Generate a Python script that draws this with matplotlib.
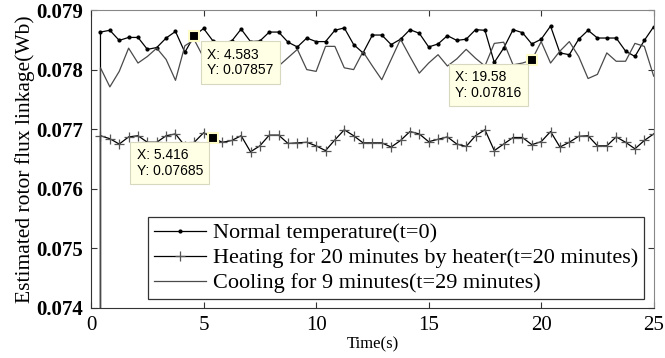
import numpy as np
import matplotlib.pyplot as plt

# sample times: 60 samples over 25 s, plus the startup sample where the estimate jumps from zero
t = np.r_[25 / 60, np.arange(1, 61) * 25 / 60]

normal = [0.0,
          0.07863, 0.07866, 0.07849, 0.07854, 0.07854, 0.07834, 0.07837, 0.07853, 0.07864, 0.07829,
          0.07857, 0.07869, 0.07848, 0.07845, 0.07848, 0.07868, 0.07847, 0.07848, 0.07863, 0.07863,
          0.07846, 0.07838, 0.07853, 0.07847, 0.07847, 0.07866, 0.07870, 0.07842, 0.07828, 0.07858,
          0.07858, 0.07842, 0.07851, 0.07867, 0.07861, 0.07838, 0.07843, 0.07857, 0.07849, 0.07851,
          0.07867, 0.07866, 0.07812, 0.07836, 0.07867, 0.07862, 0.07843, 0.07851, 0.07873, 0.07828,
          0.07825, 0.07851, 0.07866, 0.07853, 0.07853, 0.07853, 0.07831, 0.07822, 0.07849, 0.07872]

heating = [0.0,
           0.07689, 0.07684, 0.07675, 0.07687, 0.07689, 0.07678, 0.07678, 0.07689, 0.07692, 0.07672,
           0.07678, 0.07694, 0.07685, 0.07678, 0.07681, 0.07689, 0.07662, 0.07672, 0.07690, 0.07690,
           0.07676, 0.07677, 0.07678, 0.07672, 0.07664, 0.07682, 0.07699, 0.07689, 0.07677, 0.07677,
           0.07677, 0.07670, 0.07681, 0.07696, 0.07692, 0.07679, 0.07683, 0.07687, 0.07675, 0.07671,
           0.07689, 0.07699, 0.07664, 0.07675, 0.07686, 0.07686, 0.07674, 0.07679, 0.07696, 0.07670,
           0.07678, 0.07688, 0.07689, 0.07672, 0.07672, 0.07687, 0.07678, 0.07667, 0.07681, 0.07692]

cooling = [0.0,
           0.07803, 0.07771, 0.07797, 0.07836, 0.07811, 0.07822, 0.07836, 0.07817, 0.07782, 0.07840,
           0.07850, 0.07820, 0.07800, 0.07830, 0.07810, 0.07840, 0.07800, 0.07820, 0.07790, 0.07806,
           0.07820, 0.07834, 0.07800, 0.07797, 0.07839, 0.07839, 0.07803, 0.07800, 0.07830, 0.07806,
           0.07783, 0.07817, 0.07851, 0.07822, 0.07794, 0.07811, 0.07825, 0.07806, 0.07818, 0.07834,
           0.07819, 0.07806, 0.07844, 0.07846, 0.07808, 0.07811, 0.07816, 0.07847, 0.07811, 0.07831,
           0.07847, 0.07822, 0.07785, 0.07792, 0.07828, 0.07814, 0.07814, 0.07844, 0.07839, 0.07789]

labels = ['Normal temperature(t=0)',
          'Heating for 20 minutes by heater(t=20 minutes)',
          'Cooling for 9 minutes(t=29 minutes)']

# data tips as read out by the cursor
tip_x = ['4.583', '5.416', '19.58']
tip_y = ['0.07857', '0.07685', '0.07816']
tip_side = ['right', 'left', 'left']

serif = ['Liberation Serif', 'DejaVu Serif']

fig = plt.figure(figsize=(6.65, 3.58), dpi=100)
ax = fig.add_axes([0.137, 0.14, 0.846, 0.832])

ax.plot(t, normal, color='black', lw=0.9, marker='.', ms=4, label=labels[0])
ax.plot(t, heating, color='black', lw=0.9, marker='+', ms=7, mew=0.9, mec='#555555', label=labels[1])
ax.plot(t, cooling, color='#4a4a4a', lw=0.9, label=labels[2])

for xs, ys, side in zip(tip_x, tip_y, tip_side):
    x, y = float(xs), float(ys)
    ax.plot(x, y, 's', color='black', ms=7, mec='#fdfbc8', mew=1.5, zorder=5)
    if side == 'right':
        off, ha = (13, -12), 'left'
    else:
        off, ha = (-10, -10), 'right'
    ax.annotate(f'X: {xs}\nY: {ys}', (x, y), xytext=off,
                textcoords='offset pixels', ha=ha, va='top', multialignment='left',
                fontsize=10, family='Liberation Sans', linespacing=1.15,
                bbox=dict(boxstyle='square,pad=0.45', fc='#ffffe6', ec='#d8d8c0', lw=0.8),
                zorder=6)

ax.set_xlim(0, 25)
ax.set_ylim(0.074, 0.079)
ax.set_xticks([0, 5, 10, 15, 20, 25])
ax.set_yticks([0.074, 0.075, 0.076, 0.077, 0.078, 0.079])
ax.set_yticklabels(['0.074', '0.075', '0.076', '0.077', '0.078', '0.079'])
ax.tick_params(direction='in', length=4, top=True, right=True, color='#333333')
for lab in ax.get_xticklabels():
    lab.set_fontfamily(serif)
    lab.set_fontsize(15)
for lab in ax.get_yticklabels():
    lab.set_fontfamily(serif)
    lab.set_fontsize(15)
    lab.set_fontweight('bold')
ax.tick_params(axis='x', pad=6)
ax.tick_params(axis='y', pad=6)

for side in ['top', 'right']:
    ax.spines[side].set_color('#888888')
for side in ['left', 'bottom']:
    ax.spines[side].set_color('#333333')

ax.set_xlabel('Time(s)', family=serif, fontsize=12, labelpad=1)
ax.set_ylabel('Estimated rotor flux linkage(Wb)', family=serif, fontsize=15.5, labelpad=1)

leg = ax.legend(loc='lower right', bbox_to_anchor=(0.982, 0.03), prop={'family': serif, 'size': 16},
                frameon=True, fancybox=False, edgecolor='black', handlelength=2.35,
                labelspacing=0.2, borderpad=0.25, handletextpad=0.3, borderaxespad=0)
leg.get_frame().set_linewidth(0.9)

fig.savefig('out.png', dpi=100)
